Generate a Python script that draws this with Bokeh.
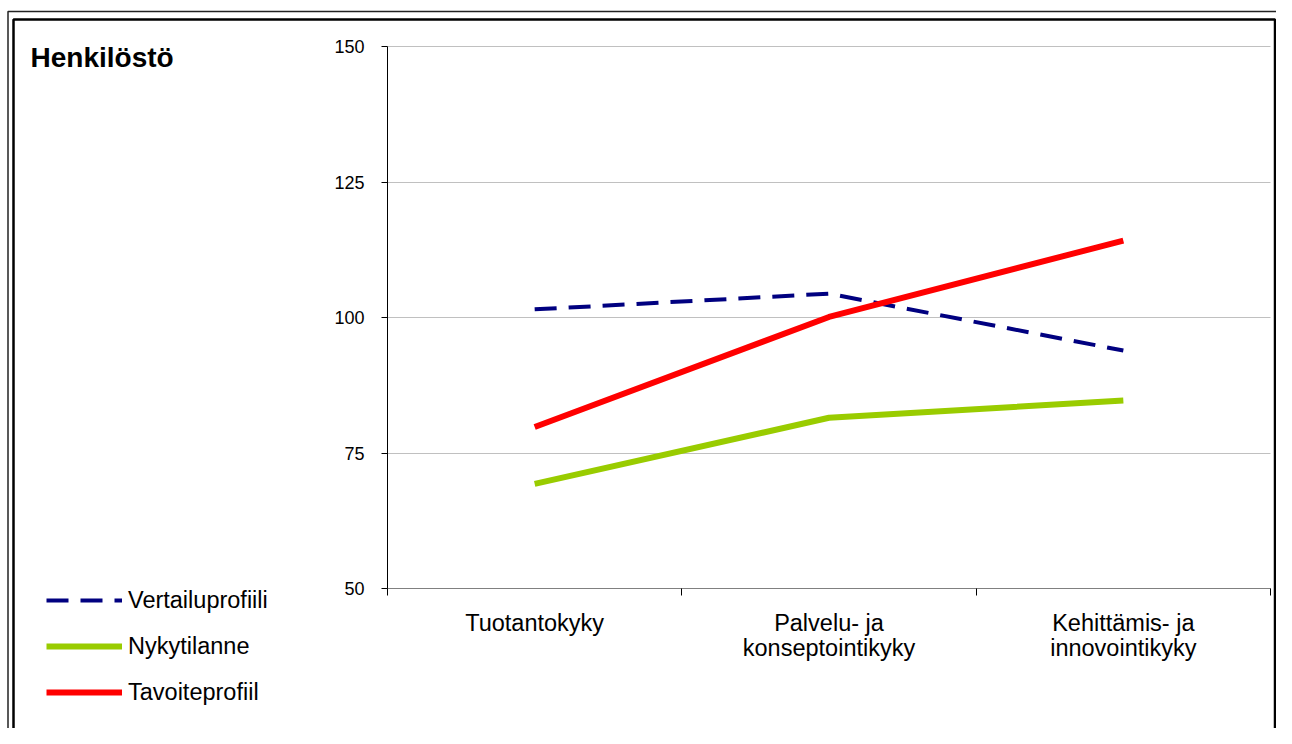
from bokeh.plotting import figure
from bokeh.models import (Range1d, FixedTicker, Legend, LegendItem, Label,
                          BoxAnnotation, ColumnDataSource)
from bokeh.embed import file_html
from bokeh.resources import INLINE

# ---- data ----
title_text = "Henkilöstö"
categories = ["Tuotantokyky", "Palvelu- ja\nkonseptointikyky", "Kehittämis- ja\ninnovointikyky"]
vertailuprofiili = [101.5, 104.4, 93.9]
nykytilanne = [69.3, 81.5, 84.7]
tavoiteprofiili = [79.8, 100.1, 114.2]
series_names = ["Vertailuprofiili", "Nykytilanne", "Tavoiteprofiil"]
y_ticks = [50, 75, 100, 125, 150]

FONT = "Liberation Sans"
BLUE, GREEN, RED = "#000080", "#99cc00", "#ff0000"

# ---- layout (canvas pixels) ----
W, H = 1276, 728
PL, PR, PT, PB = 387, 1270, 46, 588     # plot-area edges inside the canvas
n = len(categories)
y0, y1 = y_ticks[0], y_ticks[-1]
kx = (PR - PL) / n
ky = (PB - PT) / (y1 - y0)
x_range = Range1d(-PL / kx, n + (W - PR) / kx)
y_range = Range1d(y0 - (H - PB) / ky, y1 + PT / ky)


def px_x(c):
    return x_range.start + c / kx


def px_y(c):
    return y_range.end - c / ky


xs = [i + 0.5 for i in range(n)]
src = ColumnDataSource(dict(x=xs, v=vertailuprofiili, n=nykytilanne, t=tavoiteprofiili))

p = figure(width=W, height=H, output_backend="svg", toolbar_location=None,
           x_range=x_range, y_range=y_range, min_border=0)
p.outline_line_alpha = 0
p.background_fill_color = "white"
p.border_fill_color = "white"

# axes pinned inside the full-canvas frame
p.xaxis.fixed_location = y0
p.xaxis.bounds = (0, n)
p.yaxis.fixed_location = 0
p.yaxis.bounds = (y0, y1)

p.xaxis.ticker = FixedTicker(ticks=xs, minor_ticks=list(range(n + 1)))
p.xaxis.major_label_overrides = {x: c for x, c in zip(xs, categories)}
p.xaxis.major_tick_out = 0
p.xaxis.major_tick_in = 0
p.xaxis.minor_tick_out = 7
p.xaxis.minor_tick_in = 0
p.xaxis.minor_tick_line_color = "black"
p.xaxis.axis_line_color = "#808080"
p.xaxis.major_label_text_font = FONT
p.xaxis.major_label_text_font_size = "23.5px"
p.xaxis.major_label_text_color = "black"
p.xaxis.major_label_text_line_height = 0.97
p.xaxis.major_label_standoff = 14

p.yaxis.ticker = FixedTicker(ticks=y_ticks)
p.yaxis.minor_tick_line_color = None
p.yaxis.major_tick_out = 6
p.yaxis.major_tick_in = 0
p.yaxis.axis_line_color = "black"
p.yaxis.major_tick_line_color = "black"
p.yaxis.major_label_text_font = FONT
p.yaxis.major_label_text_font_size = "18px"
p.yaxis.major_label_text_color = "black"
p.yaxis.major_label_standoff = 17

p.xgrid.grid_line_color = None
p.ygrid.grid_line_color = "#c0c0c0"
p.ygrid.grid_line_width = 1
g = p.ygrid[0]
if "cross_bounds" in g.properties():
    g.cross_bounds = (0, n)
else:
    p.add_layout(BoxAnnotation(right=0, fill_color="white", fill_alpha=1,
                               line_alpha=0, level="underlay"))
    p.add_layout(BoxAnnotation(left=n, fill_color="white", fill_alpha=1,
                               line_alpha=0, level="underlay"))

r_v = p.line("x", "v", source=src, line_color=BLUE, line_width=4, line_dash="22 12")
r_n = p.line("x", "n", source=src, line_color=GREEN, line_width=6)
r_t = p.line("x", "t", source=src, line_color=RED, line_width=6)

legend = Legend(items=[LegendItem(label=series_names[0], renderers=[r_v]),
                       LegendItem(label=series_names[1], renderers=[r_n]),
                       LegendItem(label=series_names[2], renderers=[r_t])],
                location=(36, 12))
legend.label_text_font = FONT
legend.label_text_font_size = "23.5px"
legend.label_text_color = "black"
legend.glyph_width = 76
legend.glyph_height = 28
legend.label_height = 28
legend.label_standoff = 6
legend.spacing = 18
legend.padding = 10
legend.margin = 0
legend.border_line_alpha = 0
legend.background_fill_alpha = 0
p.add_layout(legend, "center")

p.add_layout(Label(x=px_x(30), y=px_y(57), text=title_text, text_font=FONT,
                   text_font_size="28px", text_font_style="bold",
                   text_color="black", text_baseline="middle"))

# double frame round the chart (open towards the right and bottom edges)
p.add_layout(BoxAnnotation(left=px_x(7.5), right=px_x(W + 20), top=px_y(11),
                           bottom=px_y(H + 20), fill_alpha=0, line_alpha=1,
                           line_color="#222222", line_width=1.5))
p.add_layout(BoxAnnotation(left=px_x(13), right=px_x(W - 1.5), top=px_y(19),
                           bottom=px_y(H + 20), fill_alpha=0, line_alpha=1,
                           line_color="black", line_width=2.5))

open("out.html", "w").write(file_html(p, INLINE))
